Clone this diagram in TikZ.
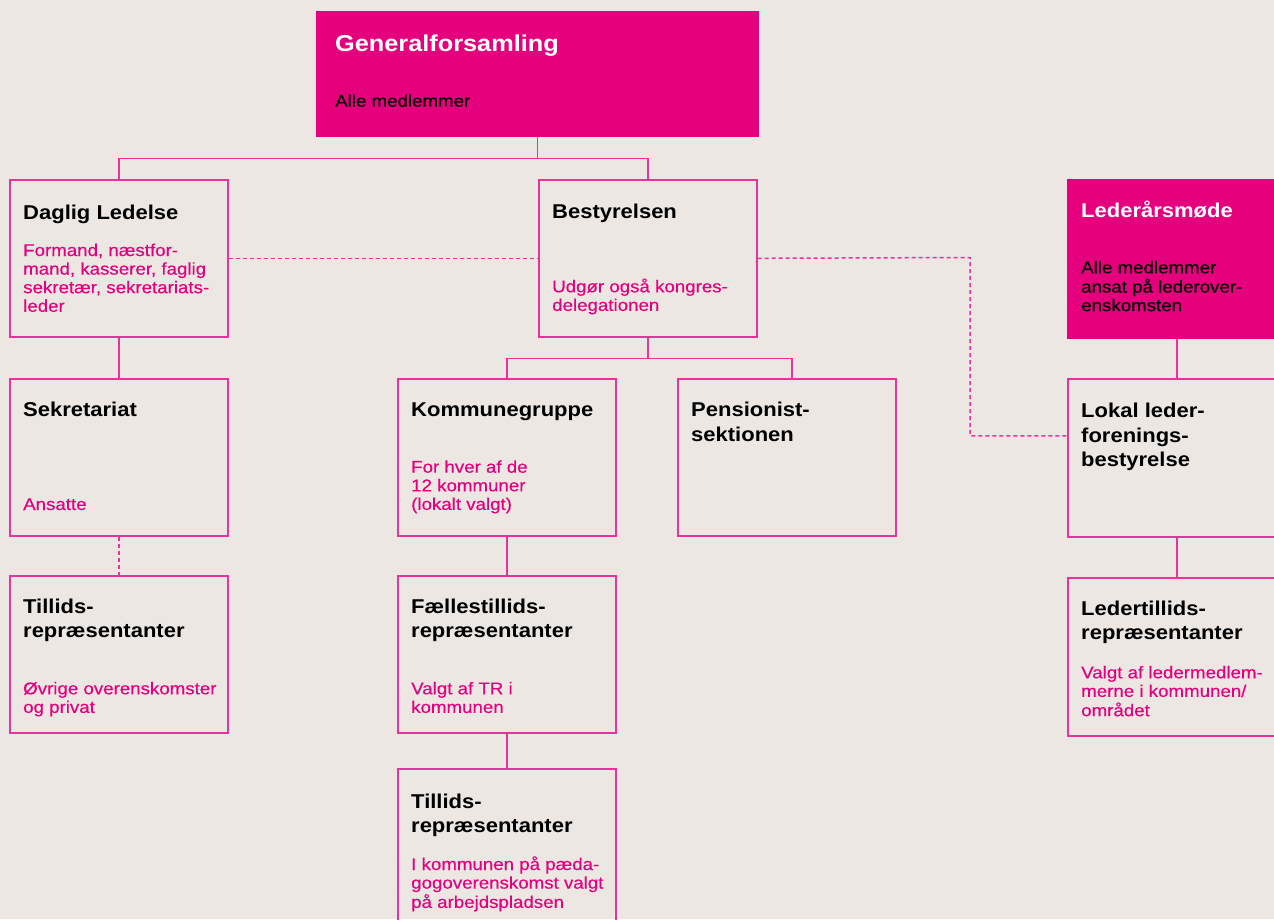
\documentclass[tikz,border=0pt]{standalone}
\usepackage{fontspec}
\setmainfont{Liberation Sans}[FakeStretch=1.1]
\newfontfamily\medfont{Liberation Sans}[FakeStretch=1.1, FakeBold=0.35]
\usetikzlibrary{calc}
\definecolor{bg}{HTML}{ECE7E3}
\definecolor{mag}{HTML}{E5007E}
\definecolor{edge}{HTML}{E8339A}
\newcommand\mlines[1]{\begin{tabular}[t]{@{}l@{}}#1\end{tabular}}
\tikzset{
  box/.style={draw=edge, line width=1.6pt, rectangle, inner sep=0pt, minimum width=218pt, minimum height=157pt, anchor=north west},
  filledbox/.style={box, draw=mag, fill=mag},
  ttl/.style={anchor=base west, inner sep=0pt, font=\fontsize{20}{24.4}\selectfont\bfseries, text=black},
  bodytext/.style={anchor=base west, inner sep=0pt, font=\medfont\fontsize{17}{18.6}\selectfont, text=mag},
  conn/.style={draw=edge, line width=1.5pt},
  dconn/.style={conn, dash pattern=on 4pt off 3pt}
}
\begin{document}
\begin{tikzpicture}[x=1pt,y=-1pt]
\useasboundingbox (0,0) rectangle (1274,919);
\clip (0,0) rectangle (1274,919);
\fill[bg] (0,0) rectangle (1274,919);

% boxes
\node (gf) [filledbox, minimum width=441pt, minimum height=124pt] at (316,11) {};
\node (dl) [box] at (9,179) {};
\node (be) [box] at (538,179) {};
\node (la) [filledbox, minimum height=158pt] at (1067,179) {};
\node (se) [box] at (9,378) {};
\node (kg) [box] at (397,378) {};
\node (pe) [box] at (677,378) {};
\node (lo) [box, minimum height=158pt] at (1067,378) {};
\node (tl) [box] at (9,575) {};
\node (ft) [box] at (397,575) {};
\node (tb) [box, minimum height=160pt] at (397,768) {};
\node (lt) [box, minimum height=158pt] at (1067,577) {};

% texts
\node (gft) [ttl, text=white, font=\fontsize{23}{27}\selectfont\bfseries] at (335,51.7) {Generalforsamling};
\node (gfb) [bodytext, text=black] at (335,106.7) {Alle medlemmer};

\node (dlt) [ttl] at (23,219) {Daglig Ledelse};
\node (dlb) [bodytext] at (23,256) {\mlines{Formand, næstfor-\\mand, kasserer, faglig\\sekretær, sekretariats-\\leder}};

\node (bet) [ttl] at (552,218.3) {Bestyrelsen};
\node (beb) [bodytext] at (552,292.3) {\mlines{Udgør også kongres-\\delegationen}};

\node (lat) [ttl, text=white] at (1081,217.7) {Lederårsmøde};
\node (lab) [bodytext, text=black] at (1081,273.3) {\mlines{Alle medlemmer\\ansat på lederover-\\enskomsten}};

\node (set) [ttl] at (23,416.7) {Sekretariat};
\node (seb) [bodytext] at (23,510) {Ansatte};

\node (kgt) [ttl] at (411,416.7) {Kommunegruppe};
\node (kgb) [bodytext] at (411,472.7) {\mlines{For hver af de\\12 kommuner\\(lokalt valgt)}};

\node (pet) [ttl] at (691,416.7) {\mlines{Pensionist-\\sektionen}};

\node (lot) [ttl] at (1081,417.7) {\mlines{Lokal leder-\\forenings-\\bestyrelse}};

\node (tlt) [ttl] at (23,613.3) {\mlines{Tillids-\\repræsentanter}};
\node (tlb) [bodytext] at (23,694.3) {\mlines{Øvrige overenskomster\\og privat}};

\node (ftt) [ttl] at (411,613.5) {\mlines{Fællestillids-\\repræsentanter}};
\node (ftb) [bodytext] at (411,694.3) {\mlines{Valgt af TR i\\kommunen}};

\node (tbt) [ttl] at (411,808.3) {\mlines{Tillids-\\repræsentanter}};
\node (tbb) [bodytext] at (411,870) {\mlines{I kommunen på pæda-\\gogoverenskomst valgt\\på arbejdspladsen}};

\node (ltt) [ttl] at (1081,615) {\mlines{Ledertillids-\\repræsentanter}};
\node (ltb) [bodytext] at (1081,678.3) {\mlines{Valgt af ledermedlem-\\merne i kommunen/\\området}};

% connectors
\draw[conn] (gf.south) -- ++(0,22) -| (dl.north);
\draw[conn] (gf.south) ++(0,22) -| (be.north);
\draw[conn] (dl.south) -- (se.north);
\draw[dconn] (se.south) -- (tl.north);
\draw[conn] (be.south) -- ++(0,21) -| (kg.north);
\draw[conn] (be.south) ++(0,21) -| ([xshift=5pt]pe.north);
\draw[conn] (kg.south) -- (ft.north);
\draw[conn] (ft.south) -- (tb.north);
\draw[conn] (la.south) -- (lo.north);
\draw[conn] (lo.south) -- (lt.north);
\draw[dconn] (dl.east) -- (be.west);
\coordinate (dbend) at (970,257.5);
\draw[dconn] (be.east) -- (dbend) |- ([yshift=22pt]lo.west);
\end{tikzpicture}
\end{document}
